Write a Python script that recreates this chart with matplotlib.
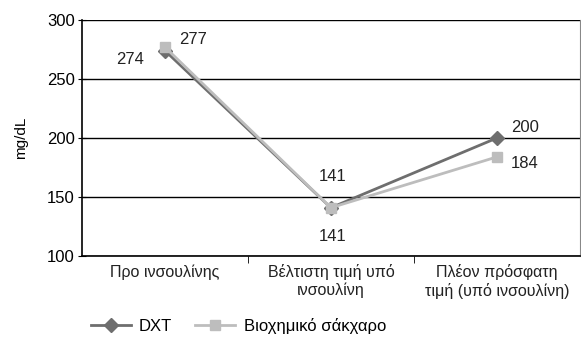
import matplotlib.pyplot as plt
from matplotlib.ticker import FixedLocator

categories = ['Προ ινσουλίνης', 'Βέλτιστη τιμή υπό\nινσουλίνη',
              'Πλέον πρόσφατη\nτιμή (υπό ινσουλίνη)']
dxt = [274, 141, 200]
bio = [277, 141, 184]

plt.rcParams['font.family'] = ['Liberation Sans', 'DejaVu Sans']

fig = plt.figure(figsize=(5.81, 3.49), dpi=100)
ax = fig.add_axes([0.141, 0.266, 0.857, 0.677])

x = list(range(len(categories)))
ax.plot(x, dxt, color='#6e6e6e', lw=2, marker='D', ms=7, label='DXT', zorder=3)
ax.plot(x, bio, color='#bdbdbd', lw=2, marker='s', ms=7,
        label='Βιοχημικό σάκχαρο', zorder=4)

ax.set_xlim(-0.5, 2.5)
ax.set_ylim(100, 300)
ax.set_yticks([100, 150, 200, 250, 300])
ax.yaxis.grid(True, color='black', lw=1)
ax.set_axisbelow(True)
ax.tick_params(axis='y', direction='inout', length=6, labelsize=12, pad=2)
ax.set_xticks(x)
ax.set_xticklabels(categories, fontsize=11.5, color='#222222')
ax.tick_params(axis='x', length=0, pad=6)
ax.xaxis.set_minor_locator(FixedLocator([0.5, 1.5]))
ax.tick_params(axis='x', which='minor', direction='out', length=5)
for s in ['left', 'bottom']:
    ax.spines[s].set_linewidth(1.2)
ax.spines['top'].set_visible(False)
ax.spines['right'].set_color('#888888')
ax.set_ylabel('mg/dL', fontsize=11, labelpad=14)

lab = dict(fontsize=12, color='#222222')
ax.annotate(str(dxt[0]), (0, dxt[0]), xytext=(-35, -10), textcoords='offset points', **lab)
ax.annotate(str(bio[0]), (0, bio[0]), xytext=(10, 2), textcoords='offset points', **lab)
ax.annotate(str(dxt[1]), (1, dxt[1]), xytext=(-9, 19), textcoords='offset points', **lab)
ax.annotate(str(bio[1]), (1, bio[1]), xytext=(-9, -24), textcoords='offset points', **lab)
ax.annotate(str(dxt[2]), (2, dxt[2]), xytext=(10, 4), textcoords='offset points', **lab)
ax.annotate(str(bio[2]), (2, bio[2]), xytext=(10, -8), textcoords='offset points', **lab)

fig.legend(loc='lower left', bbox_to_anchor=(0.13, 0.0), ncol=2, frameon=False,
           fontsize=12, handlelength=2.4, columnspacing=1.4, handletextpad=0.5)

fig.savefig('out.png')
